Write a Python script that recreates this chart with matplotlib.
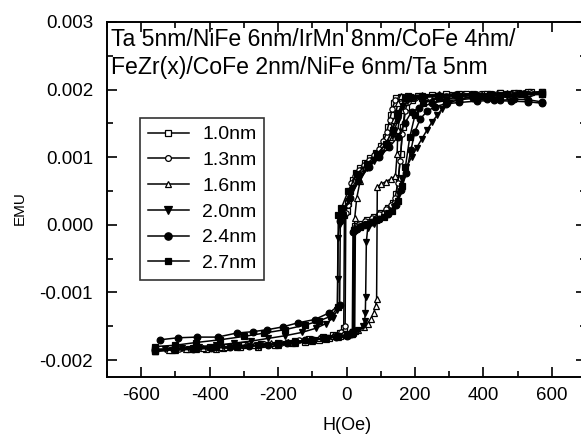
import matplotlib
matplotlib.use("Agg")
import matplotlib.pyplot as plt
from matplotlib.ticker import MultipleLocator, FixedLocator

plt.rcParams['font.family'] = ['Liberation Sans', 'DejaVu Sans']
plt.rcParams['axes.unicode_minus'] = False

# ---- data (H in Oe, M in 1e-3 emu) ----
labels = ["1.0nm", "1.3nm", "1.6nm", "2.0nm", "2.4nm", "2.7nm"]

H10_down = [570, 530, 490, 450, 410, 370, 330, 290, 250, 210, 180, 160, 145, 138, 130, 122, 115, 100, 85, 70,
            55, 40, 28, 18, 10, 5, 0, -6, -8, -20, -40, -70, -110, -150, -200, -250, -300, -350, -400, -450, -500, -560]
M10_down = [1.96, 1.96, 1.95, 1.95, 1.94, 1.94, 1.93, 1.93, 1.92, 1.91, 1.90, 1.89, 1.87, 1.80, 1.62, 1.45, 1.30, 1.16, 1.06, 0.99,
            0.92, 0.84, 0.76, 0.66, 0.50, 0.32, 0.20, 0.15, -1.52, -1.60, -1.63, -1.66, -1.69, -1.72, -1.74, -1.76, -1.78, -1.80, -1.81, -1.82, -1.84, -1.85]
H10_up = [-560, -510, -460, -410, -360, -310, -260, -210, -160, -120, -80, -50, -20, 0, 12, 20, 24, 26, 40, 60,
          80, 100, 120, 135, 145, 152, 158, 165, 175, 190, 220, 260, 300, 350, 400, 450, 500, 540, 570]
M10_up = [-1.86, -1.85, -1.84, -1.83, -1.82, -1.80, -1.79, -1.77, -1.75, -1.73, -1.70, -1.68, -1.65, -1.63, -1.61, -1.59, -1.57, -0.02, 0.02, 0.07,
          0.12, 0.18, 0.25, 0.33, 0.45, 0.70, 1.05, 1.45, 1.75, 1.85, 1.88, 1.90, 1.92, 1.93, 1.94, 1.95, 1.95, 1.96, 1.97]

H13_down = [570, 520, 470, 420, 370, 320, 270, 220, 180, 155, 142, 134, 126, 118, 108, 95, 80, 65, 50, 36,
            24, 14, 8, 3, -2, -4, -15, -35, -65, -100, -140, -190, -240, -290, -340, -390, -440, -490, -560]
M13_down = [1.95, 1.95, 1.94, 1.94, 1.93, 1.93, 1.92, 1.91, 1.90, 1.88, 1.84, 1.72, 1.55, 1.38, 1.24, 1.12, 1.03, 0.96, 0.89, 0.81,
            0.72, 0.62, 0.48, 0.30, 0.18, -1.50, -1.59, -1.63, -1.66, -1.69, -1.71, -1.74, -1.76, -1.78, -1.80, -1.81, -1.83, -1.84, -1.86]
H13_up = [-560, -500, -440, -380, -320, -260, -200, -150, -100, -60, -30, -5, 10, 18, 21, 23, 35, 55, 75, 95,
          115, 130, 142, 150, 157, 163, 170, 180, 200, 240, 290, 340, 390, 440, 490, 540, 570]
M13_up = [-1.87, -1.85, -1.84, -1.82, -1.81, -1.79, -1.77, -1.74, -1.71, -1.68, -1.65, -1.63, -1.61, -1.59, -1.57, -0.05, 0.00, 0.05, 0.10, 0.16,
          0.23, 0.30, 0.40, 0.62, 0.95, 1.35, 1.68, 1.82, 1.87, 1.89, 1.91, 1.92, 1.93, 1.94, 1.95, 1.95, 1.96]

H16_down = [570, 520, 470, 420, 370, 320, 270, 220, 185, 160, 150, 140, 128, 110, 85, 60, 40, 30, 24, 22,
            10, -10, -40, -80, -120, -170, -220, -270, -320, -370, -420, -470, -520, -560]
M16_down = [1.96, 1.95, 1.95, 1.94, 1.94, 1.93, 1.93, 1.92, 1.91, 1.90, 1.80, 1.55, 1.30, 1.15, 1.00, 0.85, 0.65, 0.40, 0.10, -1.55,
            -1.59, -1.62, -1.65, -1.68, -1.71, -1.73, -1.75, -1.77, -1.79, -1.81, -1.82, -1.83, -1.85, -1.86]
H16_up = [-560, -500, -440, -380, -320, -260, -200, -150, -100, -60, -25, 0, 20, 35, 50, 62, 72, 80, 85, 88,
          90, 100, 115, 130, 143, 148, 150, 158, 170, 190, 230, 280, 330, 380, 430, 480, 530, 570]
M16_up = [-1.86, -1.85, -1.84, -1.83, -1.81, -1.80, -1.78, -1.75, -1.72, -1.69, -1.66, -1.63, -1.60, -1.56, -1.51, -1.46, -1.39, -1.30, -1.20, -1.10,
          0.56, 0.60, 0.64, 0.68, 0.72, 1.05, 1.40, 1.70, 1.82, 1.87, 1.89, 1.91, 1.92, 1.93, 1.94, 1.95, 1.95, 1.96]

H20_down = [570, 520, 470, 420, 370, 320, 270, 230, 200, 180, 165, 150, 135, 120, 100, 80, 60, 40, 20, 5,
            -10, -20, -25, -26, -27, -40, -60, -90, -130, -180, -230, -280, -330, -380, -430, -480, -530, -560]
M20_down = [1.93, 1.93, 1.92, 1.92, 1.91, 1.91, 1.90, 1.89, 1.87, 1.84, 1.76, 1.55, 1.33, 1.18, 1.05, 0.94, 0.84, 0.72, 0.55, 0.35,
            0.15, 0.02, -0.20, -0.80, -1.26, -1.38, -1.46, -1.53, -1.59, -1.64, -1.68, -1.72, -1.75, -1.78, -1.80, -1.82, -1.84, -1.85]
H20_up = [-560, -500, -440, -380, -320, -260, -200, -150, -100, -60, -25, 0, 20, 35, 48, 53, 55, 56, 58, 62,
          80, 100, 120, 140, 152, 162, 175, 190, 205, 220, 235, 250, 265, 280, 300, 330, 370, 420, 470, 520, 570]
M20_up = [-1.86, -1.85, -1.84, -1.82, -1.81, -1.79, -1.77, -1.74, -1.71, -1.68, -1.65, -1.62, -1.59, -1.55, -1.50, -1.42, -1.30, -1.06, -0.25, -0.05,
          0.02, 0.09, 0.17, 0.27, 0.45, 0.68, 0.85, 1.00, 1.14, 1.27, 1.40, 1.52, 1.62, 1.72, 1.80, 1.86, 1.89, 1.90, 1.91, 1.92, 1.93]

H24_down = [570, 530, 490, 450, 410, 370, 330, 290, 250, 213, 190, 170, 150, 125, 95, 65, 35, 10, -10, -18,
            -20, -50, -93, -143, -187, -231, -274, -321, -377, -438, -493, -546]
M24_down = [1.82, 1.85, 1.86, 1.84, 1.86, 1.87, 1.85, 1.84, 1.80, 1.73, 1.67, 1.50, 1.30, 1.15, 1.00, 0.85, 0.65, 0.40, 0.15, 0.05,
            -1.18, -1.30, -1.40, -1.45, -1.51, -1.55, -1.58, -1.60, -1.66, -1.66, -1.67, -1.70]
H24_up = [-560, -505, -450, -395, -340, -285, -230, -175, -120, -70, -30, 0, 12, 17, 19, 30, 50, 75, 96, 120,
          146, 160, 175, 188, 200, 215, 235, 260, 290, 330, 380, 430, 480, 530, 570]
M24_up = [-1.85, -1.84, -1.83, -1.82, -1.80, -1.79, -1.77, -1.74, -1.71, -1.68, -1.66, -1.64, -1.62, -1.60, -0.10, -0.06, 0.00, 0.04, 0.08, 0.16,
          0.30, 0.52, 0.77, 1.10, 1.38, 1.56, 1.68, 1.75, 1.79, 1.81, 1.83, 1.84, 1.83, 1.82, 1.80]

H27_down = [570, 520, 470, 420, 370, 320, 270, 220, 185, 170, 150, 135, 115, 90, 60, 30, 5, -15, -24, -26,
            -45, -80, -120, -180, -240, -300, -370, -440, -500, -560]
M27_down = [1.94, 1.94, 1.93, 1.93, 1.92, 1.92, 1.91, 1.90, 1.89, 1.87, 1.65, 1.40, 1.20, 1.05, 0.90, 0.75, 0.50, 0.25, 0.15, -1.22,
            -1.35, -1.42, -1.48, -1.55, -1.60, -1.65, -1.70, -1.74, -1.78, -1.80]
H27_up = [-560, -500, -440, -380, -320, -260, -200, -150, -100, -60, -25, 0, 15, 19, 21, 40, 60, 85, 110, 132,
          150, 162, 172, 185, 200, 225, 270, 330, 390, 450, 510, 570]
M27_up = [-1.84, -1.83, -1.82, -1.81, -1.79, -1.78, -1.76, -1.73, -1.70, -1.67, -1.65, -1.63, -1.61, -1.59, -0.08, -0.03, 0.02, 0.07, 0.12, 0.20,
          0.35, 0.58, 0.85, 1.30, 1.62, 1.80, 1.88, 1.90, 1.91, 1.92, 1.93, 1.94]

x_ticks = [-600, -400, -200, 0, 200, 400, 600]
x_ticklabels = ["-600", "-400", "-200", "0", "200", "400", "600"]
y_ticks = [-0.002, -0.001, 0.0, 0.001, 0.002, 0.003]
y_ticklabels = ["-0.002", "-0.001", "0.000", "0.001", "0.002", "0.003"]
title_text = "Ta 5nm/NiFe 6nm/IrMn 8nm/CoFe 4nm/\nFeZr(x)/CoFe 2nm/NiFe 6nm/Ta 5nm"

curves = [
    (H10_down, M10_down, H10_up, M10_up),
    (H13_down, M13_down, H13_up, M13_up),
    (H16_down, M16_down, H16_up, M16_up),
    (H20_down, M20_down, H20_up, M20_up),
    (H24_down, M24_down, H24_up, M24_up),
    (H27_down, M27_down, H27_up, M27_up),
]
styles = [
    dict(marker='s', mfc='white', ms=3.8),
    dict(marker='o', mfc='white', ms=3.8),
    dict(marker='^', mfc='white', ms=4.2),
    dict(marker='v', mfc='black', ms=5.0),
    dict(marker='o', mfc='black', ms=4.8),
    dict(marker='s', mfc='black', ms=4.2),
]

# ---- figure ----
W, Hpx = 581, 434
fig = plt.figure(figsize=(W / 100, Hpx / 100), dpi=100)
ax = fig.add_axes([107 / W, 57 / Hpx, (586 - 107) / W, 355 / Hpx])

handles = []
for (hd, md, hu, mu), st, lab in zip(curves, styles, labels):
    kw = dict(color='black', lw=1.1, mec='black', mew=0.9)
    kw.update(st)
    ln, = ax.plot(hu, [v * 1e-3 for v in mu], label=lab, **kw)
    ax.plot(hd, [v * 1e-3 for v in md], **kw)
    handles.append(ln)

ax.set_xlim(-700, 700)
ax.set_ylim(-0.00225, 0.003)
ax.xaxis.set_major_locator(FixedLocator(x_ticks))
ax.set_xticklabels(x_ticklabels)
ax.xaxis.set_minor_locator(MultipleLocator(100))
ax.yaxis.set_major_locator(FixedLocator(y_ticks))
ax.set_yticklabels(y_ticklabels)
ax.yaxis.set_minor_locator(MultipleLocator(0.0005))
ax.tick_params(which='both', direction='in', top=True, right=True, width=1.2, colors='black')
ax.tick_params(which='major', length=7)
ax.tick_params(which='minor', length=4)
ax.tick_params(axis='x', which='major', labelsize=13.5, pad=7)
ax.tick_params(axis='y', which='major', labelsize=13.5, pad=10)
for sp in ax.spines.values():
    sp.set_linewidth(1.4)

fig.text(20 / W, 1 - 208 / Hpx, "EMU", rotation=90, ha='center', va='center', fontsize=11)
fig.text(347 / W, 1 - 425 / Hpx, "H(Oe)", ha='center', va='center', fontsize=13)
fig.text(111 / W, 1 - 28 / Hpx, title_text, ha='left', va='top', fontsize=16.6, linespacing=1.28)

leg = ax.legend(handles=handles, loc='upper left',
                bbox_to_anchor=(140 / W, 1 - 118 / Hpx), bbox_transform=fig.transFigure,
                fontsize=14, frameon=True, fancybox=False, edgecolor='black',
                handlelength=2.1, handletextpad=0.7, labelspacing=0.42,
                borderpad=0.4, borderaxespad=0, numpoints=1, markerscale=1.1)
leg.get_frame().set_linewidth(1.2)

fig.savefig("out.png", dpi=100)
